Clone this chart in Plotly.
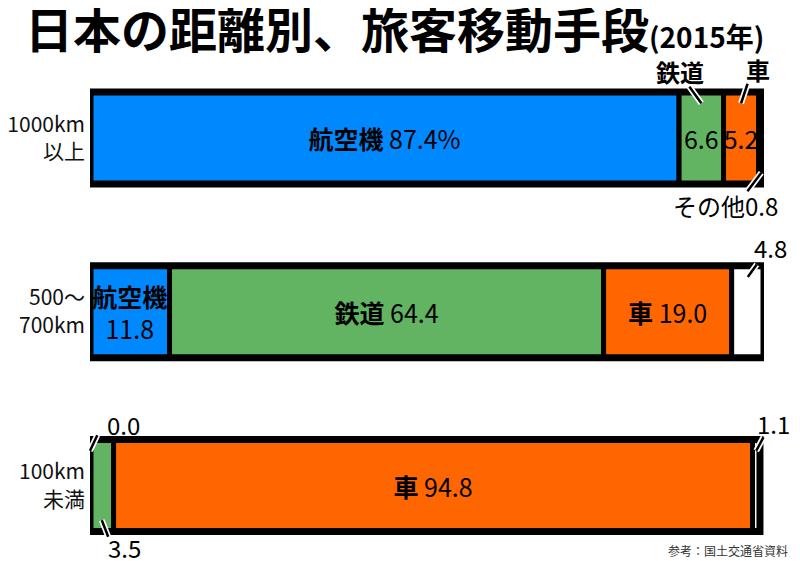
import numpy as np
import plotly.graph_objects as go

# 距離帯ごとの旅客移動手段の分担率 (%), 2015年
distances = ["1000km<br>以上", "500〜<br>700km", "100km<br>未満"]
modes = ["航空機", "鉄道", "車", "その他"]
air = [87.4, 11.8, 0.0]
rail = [6.6, 64.4, 3.5]
car = [5.2, 19.0, 94.8]
other = [0.8, 4.8, 1.1]
colors = ["#0088FF", "#62B462", "#FF6600", "#FFFFFF"]

# label format inside each segment ("" = labelled outside with a leader line)
inside_fmt = {
    "航空機": ["<b>航空機</b> {:.1f}%", "<b>航空機</b><br>{:.1f}", ""],
    "鉄道": ["{:.1f}", "<b>鉄道</b> {:.1f}", ""],
    "車": ["{:.1f}", "<b>車</b> {:.1f}", "<b>車</b> {:.1f}"],
    "その他": ["", "", ""],
}

# outside labels: (mode, bar, text, bold, side of bar, leader tail dx/dy, text dx/dy) in px
outside = [
    ("鉄道", 0, "鉄道", True, -1, (-13, -18), (-21, -32)),
    ("車", 0, "車", True, -1, (7, -21), (17, -34)),
    ("その他", 0, "その他{:.1f}", False, 1, (-15, 20), (-36, 33)),
    ("その他", 1, "{:.1f}", False, -1, (10, -14), (23, -30)),
    ("航空機", 2, "{:.1f}", False, -1, (8, -17), (33, -26)),
    ("鉄道", 2, "{:.1f}", False, 1, (7, 18), (23, 27)),
    ("その他", 2, "{:.1f}", False, -1, (8, -15), (17, -27)),
]

values = np.array([air, rail, car, other])
bases = np.vstack([np.zeros(3), np.cumsum(values, axis=0)[:-1]])
totals = values.sum(axis=0)
ypos = [0, 1, 2]
bar_w = 0.53
font = "Noto Sans CJK JP"

fig = go.Figure()
for j, mode in enumerate(modes):
    texts = [f.format(v) if f else "" for f, v in zip(inside_fmt[mode], values[j])]
    fig.add_trace(go.Bar(
        y=ypos, x=values[j], base=bases[j], orientation="h", width=bar_w,
        name=mode, marker=dict(color=colors[j], line=dict(color="black", width=5)),
        text=texts, textposition="inside", insidetextanchor="middle",
        textangle=0, constraintext="none",
        textfont=dict(family=font, size=25, color="black"),
        hoverinfo="skip",
    ))

# thicker frame round each whole bar
fig.add_trace(go.Bar(
    y=ypos, x=totals, base=0, orientation="h", width=bar_w,
    marker=dict(color="rgba(0,0,0,0)", line=dict(color="black", width=7)),
    hoverinfo="skip",
))

for mode, i, txt, bold, side, (tx, ty), (lx, ly) in outside:
    j = modes.index(mode)
    v = values[j][i]
    label = txt.format(v)
    if bold:
        label = "<b>" + label + "</b>"
    tip_x = bases[j][i] + v / 2
    tip_y = ypos[i] + side * 0.2
    # leader line: white halo, then black core
    for lc, lw in [("white", 6), ("black", 2.5)]:
        fig.add_annotation(
            x=tip_x, y=tip_y, xref="x", yref="y", text="",
            showarrow=True, arrowhead=0, arrowwidth=lw, arrowcolor=lc,
            ax=tx, ay=ty, standoff=0, startstandoff=0,
        )
    fig.add_annotation(
        x=tip_x, y=tip_y, xref="x", yref="y", text=label, showarrow=False,
        xshift=lx, yshift=-ly,
        font=dict(family=font, size=24, color="black"),
    )

fig.add_annotation(
    text="参考：国土交通省資料", xref="paper", yref="paper",
    x=1.039, y=-0.01, xanchor="right", yanchor="middle", showarrow=False,
    font=dict(family=font, size=12, color="#333"),
)

# the page body adds an 8px margin, so the figure is 8px smaller each way
fig.update_layout(
    width=792, height=553,
    barmode="overlay",
    showlegend=False,
    paper_bgcolor="white", plot_bgcolor="white",
    margin=dict(l=82, r=36, t=42, b=15),
    title=dict(
        text="<b>日本の距離別、旅客移動手段</b>"
             "<span style='font-size:28px'><b>(2015年)</b></span>",
        x=17 / 792, xref="container", xanchor="left",
        y=1 - 23 / 553, yref="container", yanchor="middle",
        font=dict(family=font, size=48, color="black"),
    ),
    uniformtext=dict(minsize=24, mode="show"),
)
fig.update_xaxes(range=[0, 100], visible=False, automargin=False)
fig.update_yaxes(
    range=[2.348, -0.5065], tickvals=ypos, ticktext=distances,
    showgrid=False, zeroline=False, showline=False, ticks="",
    ticklabelstandoff=4, automargin=False,
    tickfont=dict(family=font, size=21, color="#111"),
)

fig.write_html("out.html")
